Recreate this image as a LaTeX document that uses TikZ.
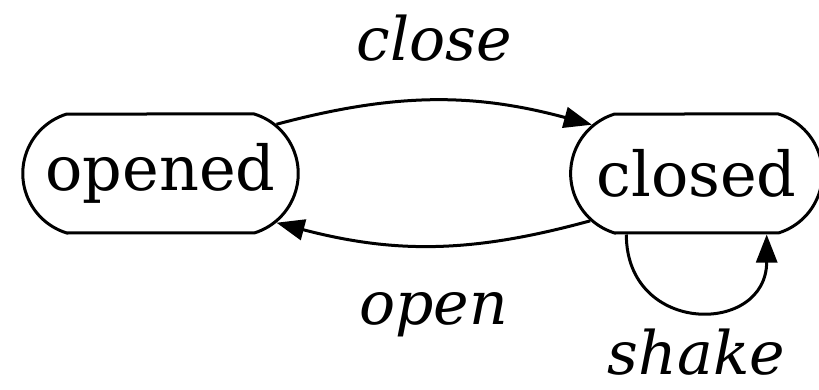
\documentclass[tikz,border=0pt]{standalone}
\usepackage{fontspec}
\setmainfont{DejaVu Serif}
\usetikzlibrary{automata, positioning, arrows.meta, shapes.misc}
\tikzset{
  ->,
  >={Triangle[length=28pt,width=21pt]},
  node distance=536pt,
  every state/.style={rounded rectangle, rounded rectangle arc length=146,
    minimum height=119pt, inner xsep=15pt,
    font=\fontsize{62pt}{70pt}\selectfont},
  action/.style={font=\fontsize{60pt}{70pt}\selectfont\itshape,
    text height=46pt, text depth=4pt},
}

\begin{document}
\begin{tikzpicture}[x=1pt, y=1pt, line width=3pt]
      \useasboundingbox (0,0) rectangle (819,-390);
      \node[state]                                 (opened) at (160.5,-173.5) {opened};
      \node[state,inner xsep=21pt,right of=opened] (closed)                   {closed};

      \path (opened.23)  edge[bend left=15]                  node[action,above=31pt]   {close} (closed.155)
            (closed.204) edge[bend left=15]                  node[action,below=28pt]   {open}  (opened.337)
            (closed.221) edge[out=270,in=270,looseness=1.85] node[action,below=13pt]   {shake} (closed.319);
\end{tikzpicture}
\end{document}
